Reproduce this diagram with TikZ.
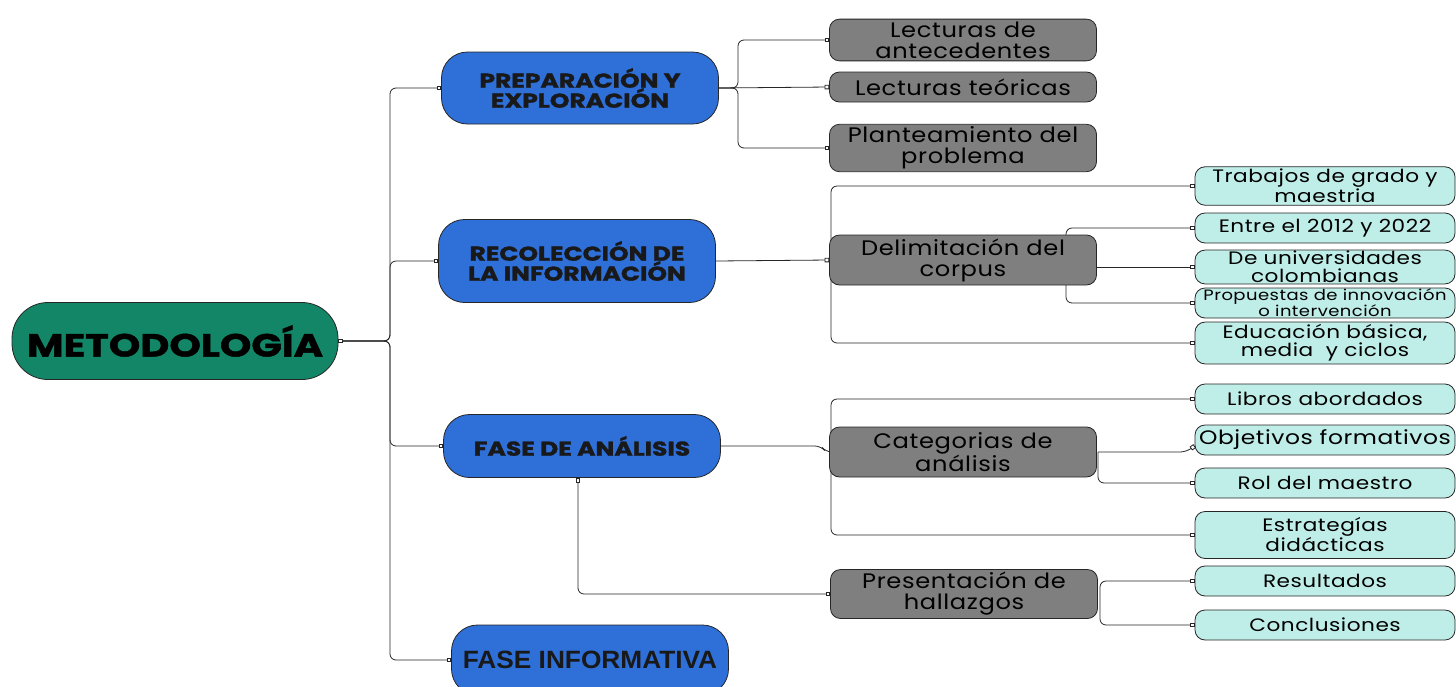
\documentclass[tikz,border=0pt]{standalone}
\usepackage{fontspec}
\setmainfont{Poppins}
\newfontfamily\headfont{Poppins}[FakeStretch=1.25, FakeBold=1.5]
\newfontfamily\textofont{Poppins}[FakeStretch=1.15, LetterSpace=3]
\newfontfamily\hojafont{Poppins}[FakeStretch=1.2, LetterSpace=3]
\newfontfamily\arialnb{Liberation Sans}[FakeStretch=1.05]
\usetikzlibrary{positioning,arrows.meta,backgrounds}
\definecolor{verde}{RGB}{18,134,102}
\definecolor{azul}{RGB}{46,111,216}
\definecolor{gris}{RGB}{127,127,127}
\definecolor{cian}{RGB}{191,237,232}

\tikzset{
  raiz/.style={draw=black!85, fill=verde, line width=0.8pt, rounded corners=36pt,
    minimum width=326pt, minimum height=77pt,
    font=\headfont\bfseries\fontsize{32}{34}\selectfont},
  fase/.style={draw=black!85, fill=azul, line width=0.8pt, rounded corners=26pt,
    minimum width=277pt, align=center, text=black!90,
    font=\headfont\bfseries\fontsize{20}{20}\selectfont},
  tema/.style={draw=black!85, fill=gris, line width=0.8pt, rounded corners=10pt,
    minimum width=267pt, minimum height=30pt, inner ysep=2.5pt, align=center,
    font=\textofont\fontsize{21}{21}\selectfont},
  hoja/.style={draw=black!85, fill=cian, line width=0.8pt, rounded corners=10pt,
    minimum width=260pt, minimum height=30pt, inner ysep=2.5pt, align=center,
    font=\hojafont\fontsize{18}{18}\selectfont},
  link/.style={draw=black!85, line width=0.8pt, rounded corners=6pt,
    >={Square[open,length=4.5pt,width=4.5pt]}, ->},
}

\begin{document}
\begin{tikzpicture}[x=1pt,y=-1pt]
  \useasboundingbox (0,0) rectangle (1456,686);

  % raiz y fases
  \node (meto) [raiz] at (175,341) {METODOLOGÍA};
  \node (prep) [fase, minimum height=72pt] at (580,88) {PREPARACIÓN Y\\EXPLORACIÓN};
  \node (reco) [fase, minimum height=83pt] at (577,261) {RECOLECCIÓN DE\\LA INFORMACIÓN};
  \node (anal) [fase, minimum height=63pt] at (582,446) {FASE DE ANÁLISIS};
  \node (info) [fase, minimum height=70pt, font=\arialnb\bfseries\fontsize{25}{27}\selectfont]
    at (590,660) {FASE INFORMATIVA};

  % temas
  \node (lant) [tema] at (963,40) {Lecturas de\\antecedentes};
  \node (lteo) [tema] at (963,87) {Lecturas teóricas};
  \node (plan) [tema] at (963,148) {Planteamiento del\\problema};
  \node (delim) [tema, minimum height=50pt] at (963,260) {Delimitación del\\corpus};
  \node (categ) [tema, minimum height=50pt] at (963,452) {Categorias de\\análisis};
  \node (pres) [tema, minimum height=49pt] at (964,594) {Presentación de\\hallazgos};

  % hojas
  \node (trab) [hoja] at (1325,186) {Trabajos de grado y\\maestria};
  \node (entre) [hoja] at (1325,228) {Entre el 2012 y 2022};
  \node (univ) [hoja, inner ysep=1pt] at (1325,267) {De universidades\\colombianas};
  \node (prop) [hoja, inner ysep=1pt, font=\hojafont\fontsize{15}{16}\selectfont] at (1325,303) {Propuestas de innovación\\o intervención};
  \node (educ) [hoja] at (1325,343) {Educación básica,\\media\ \ y ciclos};
  \node (libr) [hoja] at (1325,399) {Libros abordados};
  \node (objt) [hoja, font=\hojafont\fontsize{19.5}{20}\selectfont, inner xsep=0pt] at (1325,440) {Objetivos formativos};
  \node (rolm) [hoja] at (1325,483) {Rol del maestro};
  \node (estr) [hoja, minimum height=47pt] at (1325,535) {Estrategías\\didácticas};
  \node (resu) [hoja] at (1325,581) {Resultados};
  \node (conc) [hoja] at (1325,625) {Conclusiones};

  % conectores
  \begin{scope}[on background layer]
  \coordinate (mj) at (390,341);
  \draw[link, <->] (meto.east) -- (mj) |- (prep.west);
  \draw[link, <->] (meto.east) -- (mj) |- (reco.west);
  \draw[link, <->] (meto.east) -- (mj) |- (anal.west);
  \draw[link, <->] (meto.east) -- (mj) |- (info.west);

  \coordinate (pj) at (738,88);
  \draw[link] (prep.east) -- (pj) |- (lant.west);
  \draw[link] (prep.east) -- (lteo.west);
  \draw[link] (prep.east) -- (pj) |- (plan.west);

  \draw[link] (reco.east) -- (delim.west);
  \coordinate (dj) at (831,260);
  \draw[link] (dj) |- (trab.west);
  \draw[link] (dj) |- (educ.west);
  \coordinate (dk) at (1066,260);
  \draw[link] (dk) |- (entre.west);
  \draw[link] (delim.east |- univ.west) -- (univ.west);
  \draw[link] (dk) |- (prop.west);

  \draw[link] (anal.east) -- ++(100,0) -- ++(5,6) -- (categ.west);
  \coordinate (cj) at (831,452);
  \draw[link] (cj) |- (libr.west);
  \draw[link] (cj) |- (estr.west);
  \coordinate (ck) at (1098,452);
  \draw[link] (ck) -- ++(88,0) -- ([yshift=-6pt]objt.west);
  \draw[link] (ck) |- (rolm.west);

  \draw[link, <->] ([xshift=-4pt]anal.south) |- (pres.west);
  \coordinate (pk) at (1100,594);
  \draw[link] (pk) |- (resu.west);
  \draw[link] (pk) |- (conc.west);
  \end{scope}
\end{tikzpicture}
\end{document}
